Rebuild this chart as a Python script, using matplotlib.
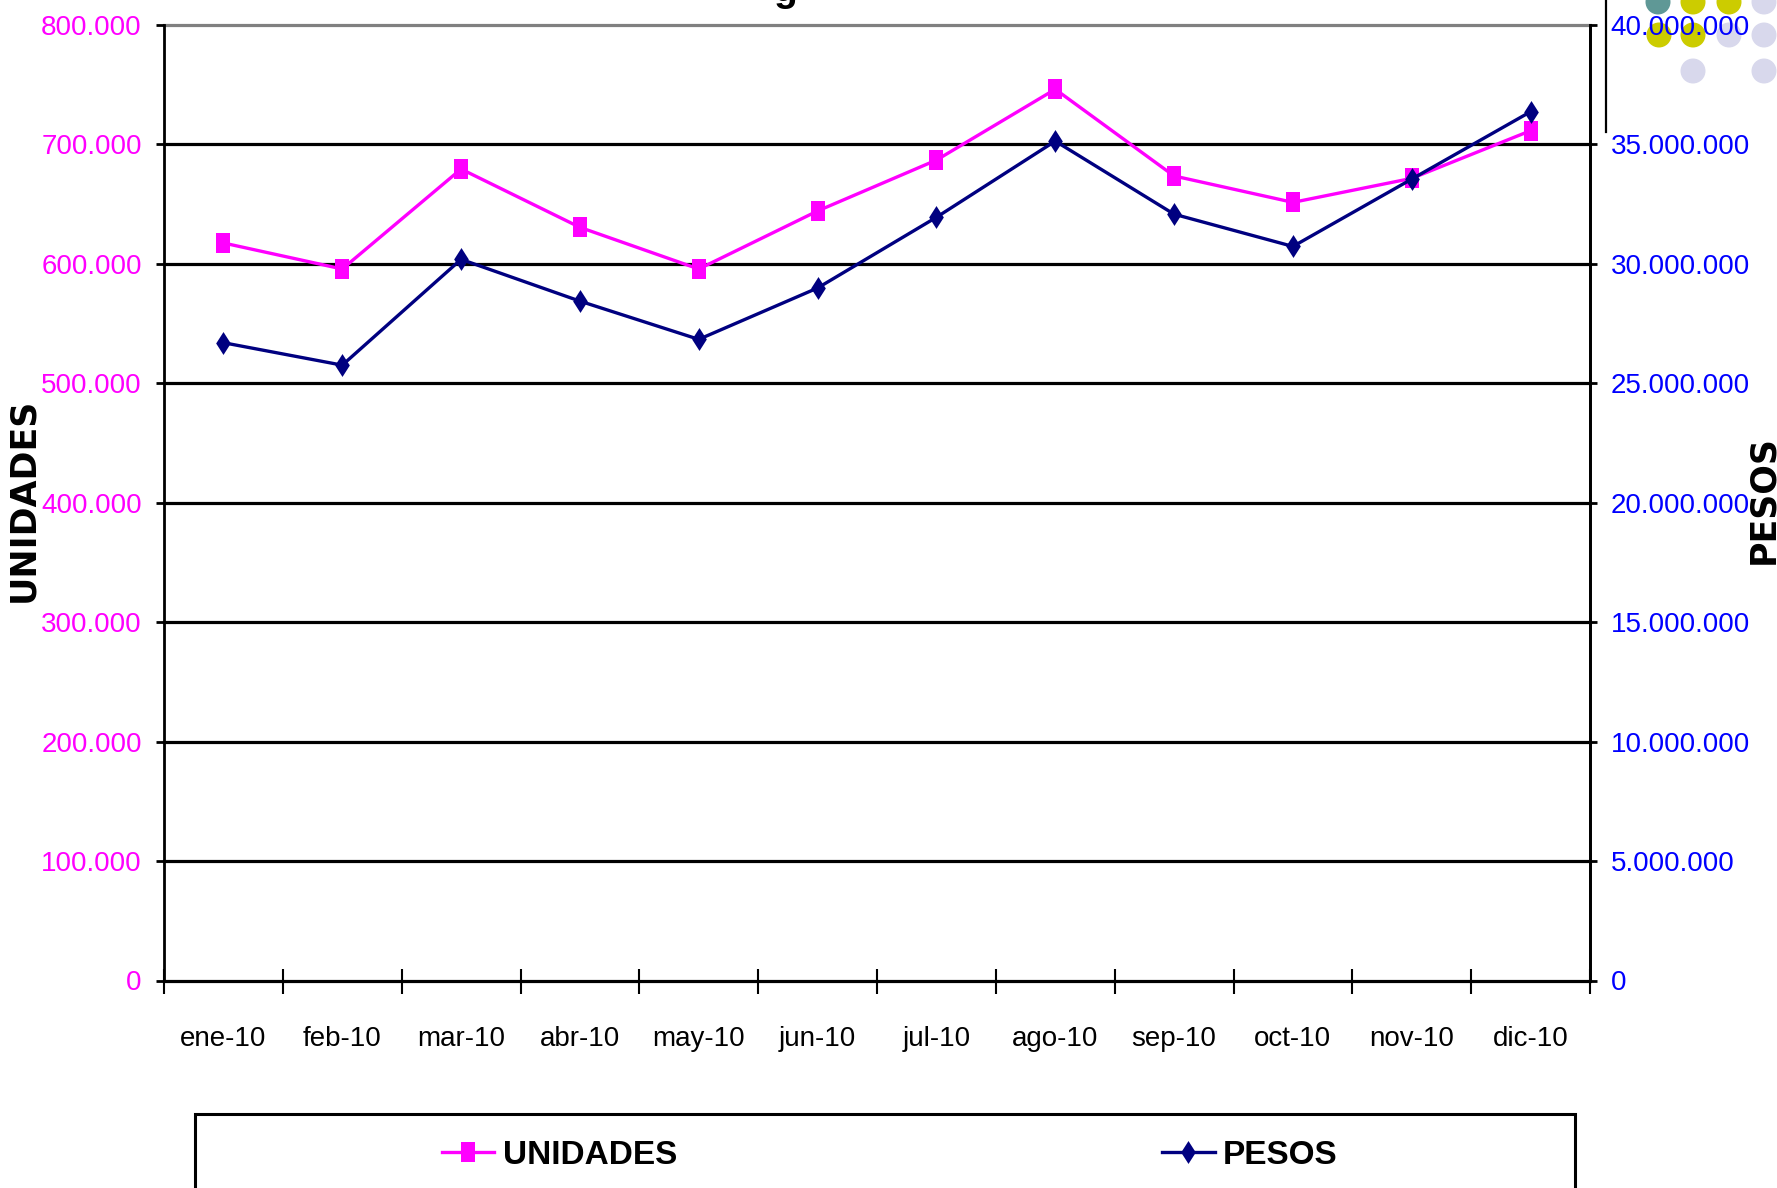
import matplotlib
matplotlib.use("Agg")
import matplotlib.pyplot as plt
from matplotlib.lines import Line2D
from matplotlib.patches import Rectangle, Circle
from matplotlib.ticker import FuncFormatter, MultipleLocator, FixedLocator

# ---- data -------------------------------------------------------------
months = ["ene-10", "feb-10", "mar-10", "abr-10", "may-10", "jun-10",
          "jul-10", "ago-10", "sep-10", "oct-10", "nov-10", "dic-10"]
unidades = [617500, 595700, 679400, 630600, 595700, 644300,
            686900, 746200, 673600, 651500, 671600, 711500]
pesos = [26700000, 25760000, 30190000, 28440000, 26840000, 28990000,
         31950000, 35140000, 32080000, 30730000, 33550000, 36370000]

MAGENTA = "#ff00ff"
NAVY = "#000080"
SANS = ["Liberation Sans", "DejaVu Sans"]

W, H = 1777, 1188
fig = plt.figure(figsize=(W / 100, H / 100), dpi=100)
fig.patch.set_facecolor("white")


def fx(px):
    return px / W


def fy(py):
    return 1 - py / H


ax = fig.add_axes([fx(164), fy(980.5), fx(1590) - fx(164), fy(25) - fy(980.5)])
ax2 = ax.twinx()

x = list(range(len(months)))

# tall marker shapes
square = [(-0.36, -0.5), (0.36, -0.5), (0.36, 0.5), (-0.36, 0.5), (-0.36, -0.5)]
diamond = [(0, -0.5), (0.32, 0), (0, 0.5), (-0.32, 0), (0, -0.5)]

l1, = ax.plot(x, unidades, color=MAGENTA, lw=2.4, marker=square,
              markersize=14.5, markeredgewidth=0, markerfacecolor=MAGENTA, zorder=5)
l2, = ax2.plot(x, pesos, color=NAVY, lw=2.4, marker=diamond,
               markersize=16.5, markeredgewidth=0, markerfacecolor=NAVY, zorder=5)

# ---- axes -------------------------------------------------------------
ax.set_xlim(-0.5, 11.5)
ax.set_ylim(0, 800000)
ax2.set_ylim(0, 40000000)
ax.yaxis.set_major_locator(MultipleLocator(100000))
ax2.yaxis.set_major_locator(MultipleLocator(5000000))


def miles(v, pos):
    return f"{int(round(v)):,}".replace(",", ".")


ax.yaxis.set_major_formatter(FuncFormatter(miles))
ax2.yaxis.set_major_formatter(FuncFormatter(miles))

ax.set_xticks(x)
ax.set_xticklabels(months)
ax.xaxis.set_minor_locator(FixedLocator([i - 0.5 for i in range(13)]))
ax.tick_params(axis="x", which="major", length=0, pad=33, labelsize=20)
ax.tick_params(axis="x", which="minor", direction="inout", length=18, width=1.5,
               color="black")
for t in ax.get_xticklabels():
    t.set_fontfamily(SANS)

ax.tick_params(axis="y", direction="out", length=6, width=2, pad=10,
               labelsize=20, labelcolor=MAGENTA, color="black")
ax2.tick_params(axis="y", direction="out", length=5, width=2, pad=10,
                labelsize=20, labelcolor="#0000ff", color="black")
for t in ax.get_yticklabels() + ax2.get_yticklabels():
    t.set_fontfamily(SANS)

# horizontal grid
for v in range(0, 800001, 100000):
    ax.axhline(v, color="#808080" if v == 800000 else "black", lw=2.3,
               zorder=1, clip_on=False)

for a in (ax, ax2):
    a.spines["top"].set_visible(False)
    a.spines["bottom"].set_visible(False)
    a.spines["left"].set_linewidth(2)
    a.spines["right"].set_linewidth(2)
    a.spines["left"].set_color("black")
    a.spines["right"].set_color("black")
ax2.spines["left"].set_visible(False)

fig.text(fx(23), fy(500), "UNIDADES", rotation=90, ha="center", va="center",
         fontsize=25, fontweight="bold", family="DejaVu Sans")
fig.text(fx(1763), fy(500), "PESOS", rotation=90, ha="center", va="center",
         fontsize=25, fontweight="bold", family="DejaVu Sans")

# title (sits above the visible area)
fig.text(fx(785), fy(1), "g", ha="center", va="baseline", fontsize=28,
         fontweight="bold", family="Liberation Sans")

# ---- legend box -------------------------------------------------------
fig.add_artist(Rectangle((fx(195), fy(1210)), fx(1575) - fx(195), fy(1114) - fy(1210),
                         transform=fig.transFigure, facecolor="white",
                         edgecolor="black", lw=2.2))
ly = fy(1152)
fig.add_artist(Line2D([fx(442), fx(494)], [ly, ly], color=MAGENTA, lw=2.4,
                      transform=fig.transFigure))
fig.add_artist(Line2D([fx(468)], [ly], color=MAGENTA, marker=square, markersize=14.5,
                      markeredgewidth=0, transform=fig.transFigure))
fig.add_artist(Line2D([fx(1162), fx(1215)], [ly, ly], color=NAVY, lw=2.4,
                      transform=fig.transFigure))
fig.add_artist(Line2D([fx(1188)], [ly], color=NAVY, marker=diamond, markersize=16.5,
                      markeredgewidth=0, transform=fig.transFigure))
fig.text(fx(503), ly, "UNIDADES", ha="left", va="center_baseline", fontsize=24,
         fontweight="bold", family=SANS)
fig.text(fx(1223), ly, "PESOS", ha="left", va="center_baseline", fontsize=24,
         fontweight="bold", family=SANS)

# ---- corner decoration ------------------------------------------------
dots = [(1658, 2, "#5f9896"), (1693, 2, "#cccc00"), (1729, 2, "#cccc00"),
        (1764, 2, "#d8d8ec"), (1659, 35, "#cccc00"), (1693, 35, "#cccc00"),
        (1729, 35, "#d8d8ec"), (1764, 35, "#d8d8ec"), (1693, 71, "#d8d8ec"),
        (1764, 71, "#d8d8ec")]
for cx, cy, col in dots:
    fig.add_artist(Circle((cx / 100, (H - cy) / 100), 0.125,
                          transform=fig.dpi_scale_trans, facecolor=col,
                          edgecolor="none", zorder=-1))
fig.add_artist(Line2D([fx(1606), fx(1606)], [fy(0), fy(132)], color="black",
                      lw=1.6, transform=fig.transFigure))

fig.savefig("out.png", dpi=100)
